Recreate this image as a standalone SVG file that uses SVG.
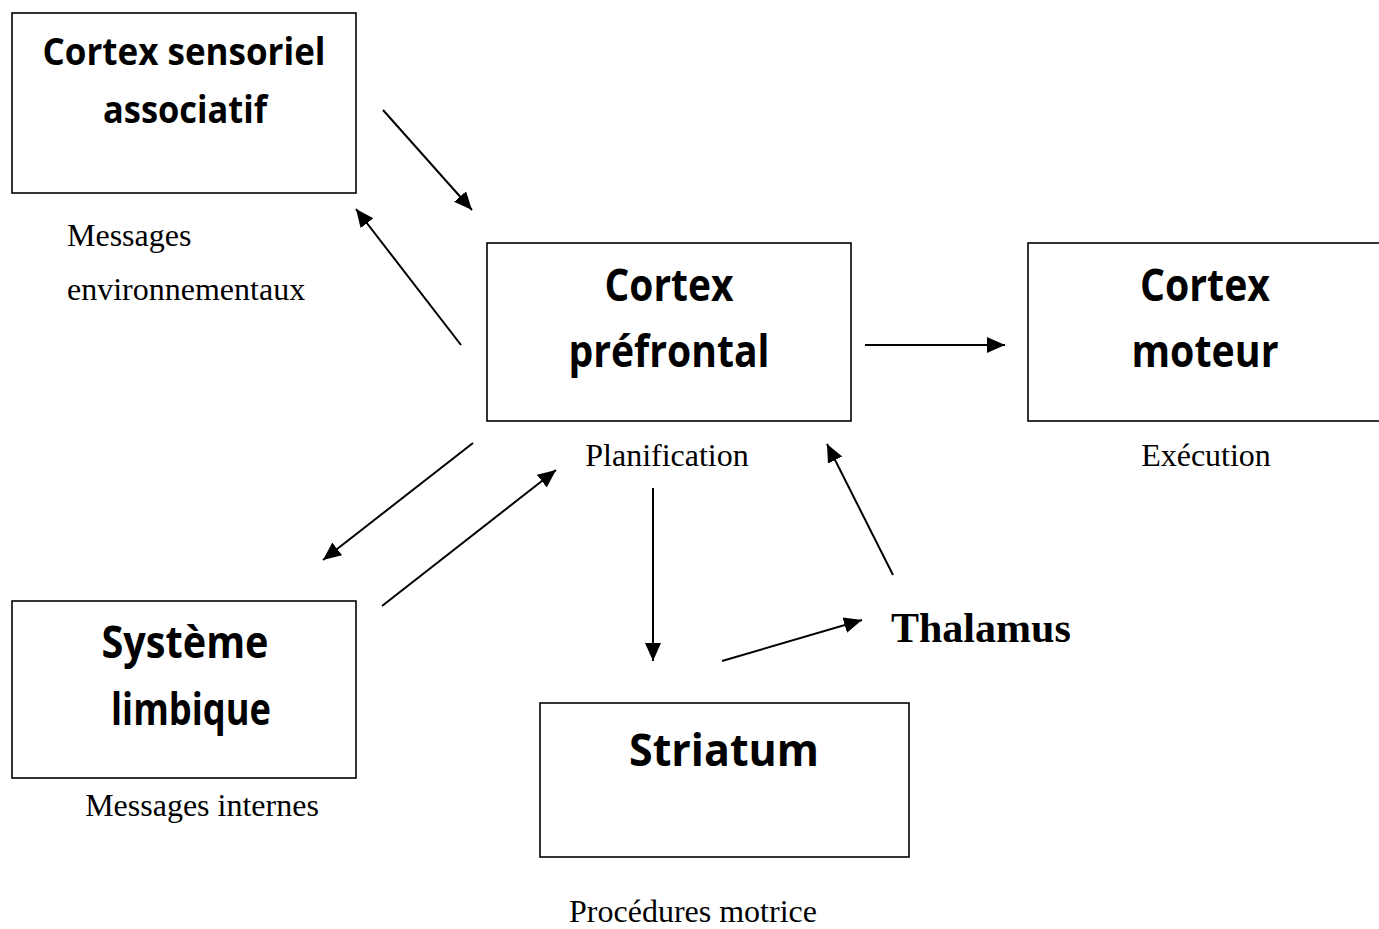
<svg xmlns="http://www.w3.org/2000/svg" width="1379" height="929" viewBox="0 0 1379 929">
<style>
.box{fill:#fff;stroke:#000;stroke-width:1.6}
.bt{font-family:"Open Sans","Noto Sans",sans-serif;font-weight:bold;text-anchor:middle;fill:#000}
.lbl{font-family:"Liberation Serif","Times New Roman",serif;font-size:32px;fill:#000}
.conn line{stroke:#000;stroke-width:2;marker-end:url(#ah)}
</style>
<defs>
<marker id="ah" markerUnits="userSpaceOnUse" markerWidth="20" markerHeight="18" refX="18" refY="8" orient="auto">
<path d="M0,0 L18,8 L0,16 Z" fill="#000"/>
</marker>
</defs>
<rect width="1379" height="929" fill="#fff"/>
<g id="n-sensoriel">
<rect class="box" x="12" y="13" width="344" height="180"/>
<text class="bt" x="184" y="65" font-size="37" textLength="283" lengthAdjust="spacingAndGlyphs">Cortex sensoriel</text>
<text class="bt" x="185" y="123" font-size="37" textLength="164" lengthAdjust="spacingAndGlyphs">associatif</text>
</g>
<g id="n-sensoriel-label">
<text class="lbl" x="67" y="246">Messages</text>
<text class="lbl" x="67" y="300">environnementaux</text>
</g>
<g id="n-prefrontal">
<rect class="box" x="487" y="243" width="364" height="178"/>
<text class="bt" x="669" y="301" font-size="44" textLength="129" lengthAdjust="spacingAndGlyphs">Cortex</text>
<text class="bt" x="669" y="367" font-size="44" textLength="201" lengthAdjust="spacingAndGlyphs">préfrontal</text>
<text class="lbl" x="667" y="466" text-anchor="middle">Planification</text>
</g>
<g id="n-moteur">
<rect class="box" x="1028" y="243" width="360" height="178"/>
<text class="bt" x="1205" y="301" font-size="44" textLength="130" lengthAdjust="spacingAndGlyphs">Cortex</text>
<text class="bt" x="1205" y="367" font-size="44" textLength="147" lengthAdjust="spacingAndGlyphs">moteur</text>
<text class="lbl" x="1206" y="466" text-anchor="middle">Exécution</text>
</g>
<g id="n-limbique">
<rect class="box" x="12" y="601" width="344" height="177"/>
<text class="bt" x="185" y="658" font-size="44" textLength="167" lengthAdjust="spacingAndGlyphs">Système</text>
<text class="bt" x="191" y="725" font-size="44" textLength="160" lengthAdjust="spacingAndGlyphs">limbique</text>
<text class="lbl" x="202" y="816" text-anchor="middle">Messages internes</text>
</g>
<g id="n-striatum">
<rect class="box" x="540" y="703" width="369" height="154"/>
<text class="bt" x="724" y="766" font-size="44" textLength="190" lengthAdjust="spacingAndGlyphs">Striatum</text>
<text class="lbl" x="693" y="922" text-anchor="middle">Procédures motrice</text>
</g>
<g id="n-thalamus">
<text x="891" y="642" font-family="Liberation Serif,Times New Roman,serif" font-weight="bold" font-size="42" fill="#000">Thalamus</text>
</g>
<g id="connectors" class="conn">
<line x1="383" y1="110" x2="472" y2="210"/>
<line x1="461" y1="345" x2="356" y2="209"/>
<line x1="865" y1="345" x2="1005" y2="345"/>
<line x1="473" y1="443" x2="323" y2="560"/>
<line x1="382" y1="606" x2="556" y2="470"/>
<line x1="653" y1="488" x2="653" y2="661"/>
<line x1="722" y1="661" x2="862" y2="620"/>
<line x1="893" y1="575" x2="827" y2="444"/>
</g>
</svg>
